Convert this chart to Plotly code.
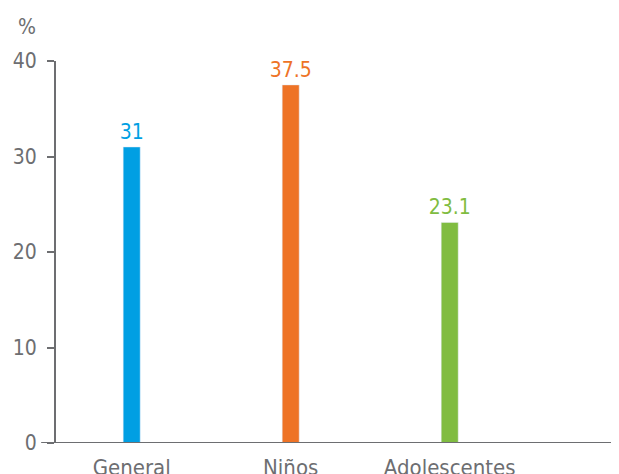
import plotly.graph_objects as go

categories = ["General", "Niños", "Adolescentes"]
values = [31, 37.5, 23.1]
labels = ["31", "37.5", "23.1"]
colors = ["#009fe3", "#ee7326", "#80bc41"]
y_ticks = [0, 10, 20, 30, 40]

FONT = "DejaVu Sans Condensed, sans-serif"
GREY = "#6d6e71"

fig = go.Figure()
fig.add_trace(go.Bar(
    x=categories, y=values, marker_color=colors, width=0.107,
    text=labels, textposition="outside", cliponaxis=False, constraintext="none",
    textfont=dict(family=FONT, size=21, color=colors),
))

fig.update_layout(
    width=619, height=474,
    margin=dict(l=48, r=0, t=53, b=39, autoexpand=False),
    paper_bgcolor="white", plot_bgcolor="white",
    showlegend=False,
    font=dict(family=FONT, color=GREY, size=21),
    xaxis=dict(
        range=[-0.476, 3.115], showline=False, ticks="", automargin=False,
        tickfont=dict(size=22, color=GREY), showgrid=False, zeroline=False,
        ticklabelstandoff=9,
    ),
    yaxis=dict(
        range=[0, 40], tickvals=y_ticks, showline=True, linecolor=GREY, linewidth=2,
        ticks="outside", ticklen=7, tickwidth=2, tickcolor=GREY, automargin=False,
        tickfont=dict(size=21, color=GREY), showgrid=False, zeroline=False,
        ticklabelstandoff=6,
    ),
    annotations=[dict(
        text="%", xref="paper", yref="paper", x=-0.031, y=1.052,
        xanchor="right", yanchor="bottom", showarrow=False,
        font=dict(family=FONT, size=21, color=GREY),
    )],
    shapes=[dict(
        type="line", xref="paper", yref="y", x0=-0.026, x1=1, y0=0, y1=0,
        line=dict(color=GREY, width=2),
    )],
)

fig.write_html("out.html")
